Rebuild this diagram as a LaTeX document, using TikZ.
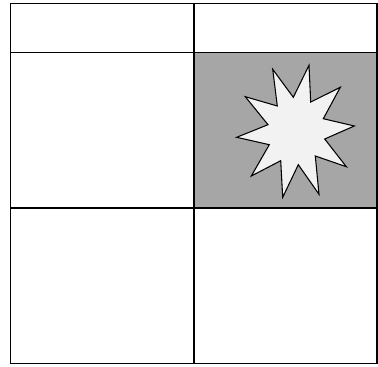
\documentclass[tikz,border=0pt]{standalone}
\definecolor{cellgray}{HTML}{A6A6A6}
\definecolor{starfill}{HTML}{F2F2F2}
\tikzset{gridline/.style={draw=black,line width=0.9pt},
  starshape/.style={draw=black,fill=starfill,line width=0.8pt,line join=miter}}
\begin{document}
\begin{tikzpicture}[x=0.75pt,y=-0.75pt]
\useasboundingbox (0,0) rectangle (378,367);
\fill[cellgray] (194,52.5) rectangle (377,208);
\draw[gridline] (10.5,3.5) rectangle (377,363.5);
\draw[gridline] (194,3.5) -- (194,363.5);
\draw[gridline] (10.5,52.5) -- (377,52.5);
\draw[gridline] (10.5,208) -- (377,208);
\draw[starshape] (309,65.3) -- (310.7,102) -- (340.3,87.3) -- (323.3,118.7) -- (354.3,126)
 -- (324.7,139) -- (346.3,166.7) -- (315.3,156) -- (319,194.3) -- (298.3,164.7)
 -- (282.7,197.3) -- (280.7,160.7) -- (251.3,176) -- (269.3,144.7) -- (236.7,137.3)
 -- (268,124.7) -- (245.3,96.7) -- (277.3,106) -- (272.7,69.3) -- (293.3,97.3) -- cycle;
\end{tikzpicture}
\end{document}
